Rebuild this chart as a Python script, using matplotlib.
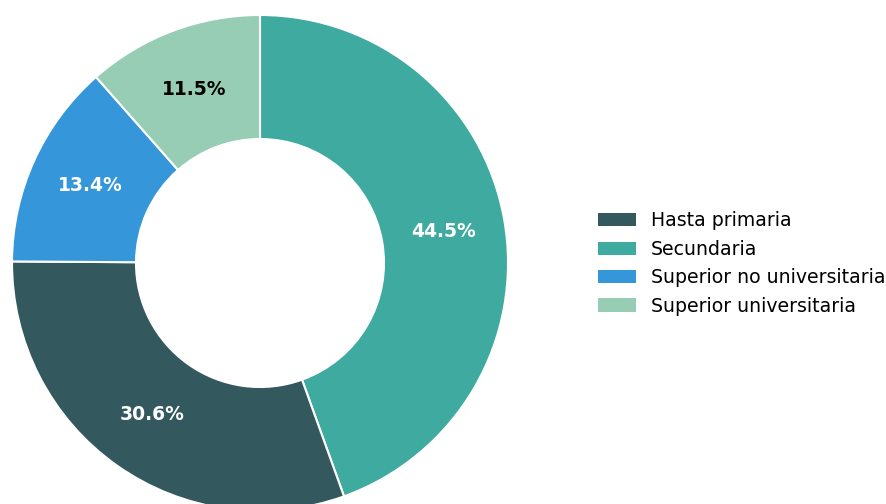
import matplotlib
matplotlib.use('Agg')
import matplotlib.pyplot as plt
from matplotlib.patches import Patch

# drawing order (clockwise from top)
labels = ['Secundaria', 'Hasta primaria', 'Superior no universitaria', 'Superior universitaria']
values = [44.5, 30.6, 13.4, 11.5]
colors = ['#3EAAA0', '#33595E', '#3597DA', '#97CDB4']
text_colors = ['white', 'white', 'white', 'black']

# legend order
legend_labels = ['Hasta primaria', 'Secundaria', 'Superior no universitaria', 'Superior universitaria']

fig = plt.figure(figsize=(8.87, 5.04), dpi=100)
ax = fig.add_axes([12 / 887, -7 / 504, 496 / 887, 496 / 504])

wedges, texts, autotexts = ax.pie(values, colors=colors, startangle=90, counterclock=False,
                                  autopct='%1.1f%%', pctdistance=0.75,
                                  wedgeprops=dict(width=0.5, edgecolor='white', linewidth=1.5))
for t, c in zip(autotexts, text_colors):
    t.set_color(c)
    t.set_fontsize(13.5)
    t.set_fontweight('bold')
ax.set_xlim(-1, 1)
ax.set_ylim(-1, 1)
ax.set_aspect('equal')

color_map = dict(zip(labels, colors))
handles = [Patch(facecolor=color_map[l], label=l) for l in legend_labels]
fig.legend(handles=handles, loc='center left', bbox_to_anchor=(581 / 887, 1 - 263.5 / 504),
           frameon=False, fontsize=13.6)

fig.savefig('out.png', dpi=100)
